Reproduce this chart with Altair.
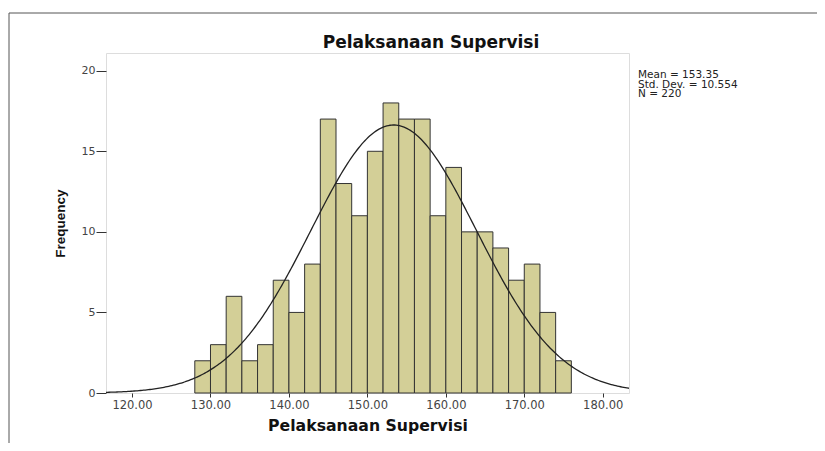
import altair as alt
import pandas as pd

# ---- data ----
bin_starts = [128, 130, 132, 134, 136, 138, 140, 142, 144, 146, 148, 150,
              152, 154, 156, 158, 160, 162, 164, 166, 168, 170, 172, 174]
counts = [2, 3, 6, 2, 3, 7, 5, 8, 17, 13, 11, 15,
          18, 17, 17, 11, 14, 10, 10, 9, 7, 8, 5, 2]
bin_width = 2
mean_val = 153.35
sd_val = 10.554
n_val = 220
chart_title = "Pelaksanaan Supervisi"
stats_lines = ["Mean = 153.35", "Std. Dev. = 10.554", "N = 220"]
x_ticks = [120, 130, 140, 150, 160, 170, 180]
y_ticks = [0, 5, 10, 15, 20]
x_domain = [116.68, 183.35]
y_domain = [0, 21.1]

FONT = "DejaVu Sans, Verdana, sans-serif"
NARROW = "Liberation Sans Narrow, Arial Narrow, Liberation Sans, sans-serif"

bars_df = pd.DataFrame({"start": bin_starts, "count": counts})
bars_df["end"] = bars_df["start"] + bin_width

xs = alt.Scale(domain=x_domain, nice=False, zero=False)
ys = alt.Scale(domain=y_domain, nice=False)

x_axis = alt.Axis(values=x_ticks, format=".2f", title="Pelaksanaan Supervisi",
                  grid=False, domain=False, tickSize=4, tickColor="#333",
                  labelFont=FONT, labelFontSize=11.5, labelColor="#444",
                  labelPadding=2, titleFont=FONT, titleFontSize=15.7,
                  titleFontWeight="bold", titleColor="#111", titlePadding=8)
y_axis = alt.Axis(values=y_ticks, title="Frequency", grid=False, domain=False,
                  tickSize=10, tickColor="#333", labelFont=FONT,
                  labelFontSize=11, labelColor="#444", labelPadding=1,
                  titleFont=NARROW, titleFontSize=13.5, titleFontWeight="bold",
                  titleColor="#111", titlePadding=14)

bars = alt.Chart(bars_df).mark_rect(
    fill="#d3cf97", stroke="#333333", strokeWidth=1
).encode(
    x=alt.X("start:Q", scale=xs, axis=x_axis),
    x2="end:Q",
    y=alt.Y("count:Q", scale=ys, axis=y_axis),
    y2=alt.datum(0),
)

curve = alt.Chart(alt.sequence(x_domain[0], x_domain[1] + 0.2, 0.2, as_="v")).transform_calculate(
    dens=f"{n_val} * {bin_width} / ({sd_val} * sqrt(2 * PI)) * exp(-0.5 * pow((datum.v - {mean_val}) / {sd_val}, 2))"
).mark_line(color="#222222", strokeWidth=1.3, clip=True).encode(
    x=alt.X("v:Q", scale=xs),
    y=alt.Y("dens:Q", scale=ys),
)

stats = alt.Chart(pd.DataFrame({"t": ["\n".join(stats_lines)]})).mark_text(
    align="left", baseline="alphabetic", font=FONT, fontSize=10.5,
    lineHeight=9.5, color="#222", lineBreak="\n"
).encode(x=alt.value(532), y=alt.value(25), text="t:N")

title_txt = alt.Chart(pd.DataFrame({"t": [chart_title]})).mark_text(
    align="center", baseline="alphabetic", font=FONT, fontSize=17,
    fontWeight="bold", color="#111"
).encode(x=alt.value(325), y=alt.value(-4.7), text="t:N")

frame_v = alt.Chart(pd.DataFrame({"a": [0]})).mark_rule(color="#555", strokeWidth=1).encode(
    x=alt.value(-97), y=alt.value(-40), y2=alt.value(400))
frame_h = alt.Chart(pd.DataFrame({"a": [0]})).mark_rule(color="#555", strokeWidth=1).encode(
    x=alt.value(-97), x2=alt.value(720), y=alt.value(-40))

chart = alt.layer(bars, curve, stats, title_txt, frame_v, frame_h).properties(
    width=523, height=340,
    autosize=alt.AutoSizeParams(type="none"),
    padding={"left": 98, "top": 45, "right": 188, "bottom": 50},
).configure_view(
    fill="#f0f0f0", stroke="#444", strokeWidth=1
).configure(background="white")

chart.save("out.html", embed_options={"renderer": "svg", "actions": False})
